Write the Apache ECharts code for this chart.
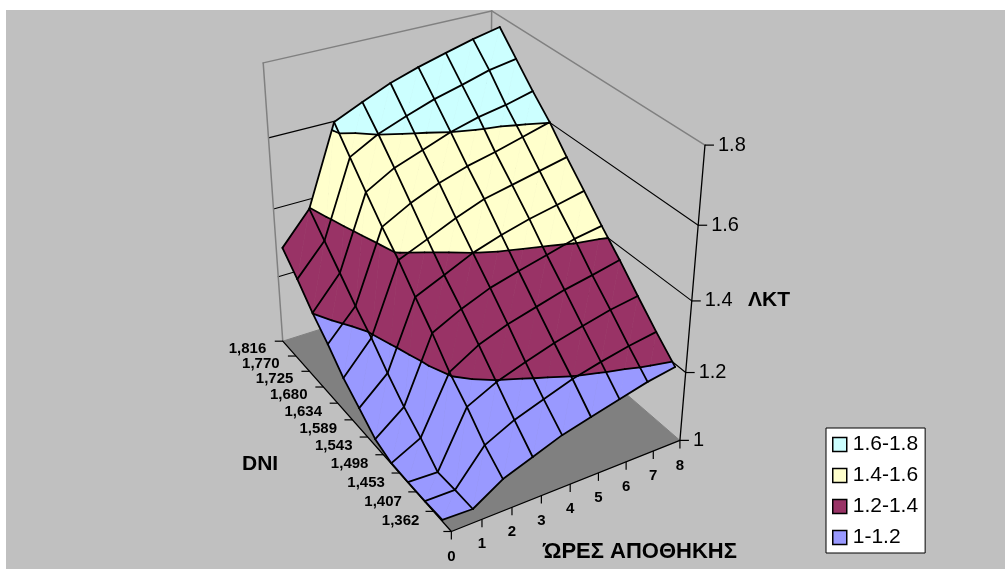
<!DOCTYPE html>
<html>
<head>
<meta charset="utf-8">
<style>html,body{margin:0;padding:0;background:#fff}#main{width:1005px;height:569px}</style>
<script src="https://cdn.jsdelivr.net/npm/echarts@6/dist/echarts.min.js"></script>
</head>
<body>
<div id="main"></div>
<script>
var hours = [0, 1, 2, 3, 4, 5, 6, 7, 8];
var dniLabels = ['1,362', '1,407', '1,453', '1,498', '1,543', '1,589', '1,634', '1,680', '1,725', '1,770', '1,816'];
var lktTicks = [1, 1.2, 1.4, 1.6, 1.8];
var bandNames = ['1-1.2', '1.2-1.4', '1.4-1.6', '1.6-1.8'];
var bandColors = ['#9999FF', '#993366', '#FFFFCC', '#CCFFFF'];

// ΛΚΤ per storage hour 0..8, one list per DNI
var lkt1362 = [1.004, 1.001, 1.054, 1.085, 1.116, 1.137, 1.158, 1.178, 1.192];
var lkt1407 = [1.001, 1.000, 1.098, 1.139, 1.168, 1.196, 1.216, 1.233, 1.246];
var lkt1453 = [1.001, 0.997, 1.156, 1.197, 1.225, 1.251, 1.272, 1.291, 1.304];
var lkt1498 = [1.002, 1.045, 1.206, 1.255, 1.286, 1.308, 1.330, 1.346, 1.364];
var lkt1543 = [1.020, 1.085, 1.270, 1.311, 1.344, 1.366, 1.386, 1.407, 1.420];
var lkt1589 = [1.061, 1.135, 1.327, 1.363, 1.400, 1.426, 1.447, 1.463, 1.480];
var lkt1634 = [1.101, 1.191, 1.388, 1.422, 1.457, 1.487, 1.504, 1.521, 1.538];
var lkt1680 = [1.154, 1.239, 1.440, 1.483, 1.516, 1.541, 1.559, 1.580, 1.601];
var lkt1725 = [1.201, 1.292, 1.498, 1.543, 1.571, 1.600, 1.621, 1.635, 1.654];
var lkt1770 = [1.257, 1.344, 1.558, 1.601, 1.630, 1.657, 1.677, 1.699, 1.712];
var lkt1816 = [1.307, 1.397, 1.620, 1.655, 1.688, 1.713, 1.734, 1.754, 1.770];
var surface = [lkt1362, lkt1407, lkt1453, lkt1498, lkt1543, lkt1589, lkt1634, lkt1680, lkt1725, lkt1770, lkt1816];

// perspective of the 3d box, (hour, depth, lkt) -> page
var camera = [
    [31.17770, -9.311624, -58.08370, 453.2498],
    [-5.978508, -10.19029, -367.9715, 833.2893],
    [0.009065349, 0.01452335, -0.1244911, 1]
];
var font = '"Liberation Sans", Arial, sans-serif';
var hourEnd = hours[hours.length - 1];
var depthEnd = dniLabels.length;
var zMin = lktTicks[0];
var zMax = lktTicks[lktTicks.length - 1];

function project(p) {
    var c = camera;
    var w = c[2][0] * p[0] + c[2][1] * p[1] + c[2][2] * p[2] + c[2][3];
    return [
        (c[0][0] * p[0] + c[0][1] * p[1] + c[0][2] * p[2] + c[0][3]) / w,
        (c[1][0] * p[0] + c[1][1] * p[1] + c[1][2] * p[2] + c[1][3]) / w
    ];
}

function node(h, r) {
    return [h, r + 0.5, surface[r][h]];
}

// every cell splits in two triangles
var triangles = [];
for (var r = 0; r < surface.length - 1; r++) {
    for (var h = 0; h < hours.length - 1; h++) {
        triangles.push([node(h, r), node(h + 1, r), node(h + 1, r + 1)]);
        triangles.push([node(h, r), node(h + 1, r + 1), node(h, r + 1)]);
    }
}

function cross(a, b, level) {
    var t = (level - a[2]) / (b[2] - a[2]);
    return [a[0] + (b[0] - a[0]) * t, a[1] + (b[1] - a[1]) * t, level];
}

function clip(poly, level, keepAbove) {
    var out = [];
    for (var i = 0; i < poly.length; i++) {
        var a = poly[i];
        var b = poly[(i + 1) % poly.length];
        var aIn = keepAbove ? a[2] >= level : a[2] <= level;
        var bIn = keepAbove ? b[2] >= level : b[2] <= level;
        if (aIn) out.push(a);
        if (aIn !== bIn) out.push(cross(a, b, level));
    }
    return out;
}

function bandPolys(lo, hi) {
    var polys = [];
    triangles.forEach(function (t) {
        var p = t;
        if (lo > zMin) p = clip(p, lo, true);
        if (p.length && hi < zMax) p = clip(p, hi, false);
        if (p.length > 2) polys.push(p);
    });
    return polys;
}

function contours() {
    var segs = [];
    lktTicks.slice(1, -1).forEach(function (level) {
        triangles.forEach(function (t) {
            var pts = [];
            for (var i = 0; i < 3; i++) {
                var a = t[i];
                var b = t[(i + 1) % 3];
                if ((a[2] >= level) !== (b[2] >= level)) pts.push(cross(a, b, level));
            }
            if (pts.length === 2) segs.push(pts);
        });
    });
    return segs;
}

function line(api, a, b, color, width) {
    var p = api.coord(project(a));
    var q = api.coord(project(b));
    return {
        type: 'line',
        shape: { x1: p[0], y1: p[1], x2: q[0], y2: q[1] },
        style: { stroke: color, lineWidth: width, lineCap: 'round' }
    };
}

function label(api, at, dx, dy, text, size, bold, align) {
    var p = api.coord(project(at));
    return {
        type: 'text',
        style: {
            x: p[0] + dx, y: p[1] + dy, text: text, fill: '#000',
            fontFamily: font, fontSize: size, fontWeight: bold ? 'bold' : 'normal',
            textAlign: align, textVerticalAlign: 'middle'
        }
    };
}

function tick(api, at, dx, dy) {
    var p = api.coord(project(at));
    return {
        type: 'line',
        shape: { x1: p[0], y1: p[1], x2: p[0] + dx, y2: p[1] + dy },
        style: { stroke: '#000', lineWidth: 1.2 }
    };
}

// floor, walls, and the three axes with their ticks
function renderBox(params, api) {
    var kids = [];
    var floor = [[0, 0, zMin], [hourEnd, 0, zMin], [hourEnd, depthEnd, zMin], [0, depthEnd, zMin]];
    kids.push({
        type: 'polygon',
        shape: { points: floor.map(function (p) { return api.coord(project(p)); }) },
        style: { fill: '#808080' }
    });
    lktTicks.slice(1, -1).forEach(function (z) {
        kids.push(line(api, [0, depthEnd, z], [hourEnd, depthEnd, z], '#000', 1.1));
        kids.push(line(api, [hourEnd, depthEnd, z], [hourEnd, 0, z], '#000', 1.1));
    });
    var gray = '#808080';
    kids.push(line(api, [0, depthEnd, zMin], [0, depthEnd, zMax], gray, 1.5));
    kids.push(line(api, [0, depthEnd, zMax], [hourEnd, depthEnd, zMax], gray, 1.5));
    kids.push(line(api, [hourEnd, depthEnd, zMax], [hourEnd, 0, zMax], gray, 1.5));
    kids.push(line(api, [hourEnd, depthEnd, zMin], [hourEnd, depthEnd, zMax], gray, 1.5));
    kids.push(line(api, [hourEnd, 0, zMin], [hourEnd, depthEnd, zMin], gray, 1));
    kids.push(line(api, [0, depthEnd, zMin], [hourEnd, depthEnd, zMin], gray, 1));

    kids.push(line(api, [0, 0, zMin], [hourEnd, 0, zMin], '#000', 1.3));
    kids.push(line(api, [0, 0, zMin], [0, depthEnd, zMin], '#000', 1.3));
    kids.push(line(api, [hourEnd, 0, zMin], [hourEnd, 0, zMax], '#000', 1.3));

    hours.forEach(function (v) {
        kids.push(tick(api, [v, 0, zMin], 0, 8));
        kids.push(label(api, [v, 0, zMin], 0, 25, String(v), 15, true, 'center'));
    });
    for (var d = 0; d <= depthEnd; d++) {
        kids.push(tick(api, [0, d, zMin], -8, 0));
    }
    dniLabels.forEach(function (v, i) {
        kids.push(label(api, [0, i + 0.5, zMin], -23, 0, v, 15, true, 'right'));
    });
    lktTicks.forEach(function (z) {
        kids.push(tick(api, [hourEnd, 0, z], 9, 0));
        kids.push(label(api, [hourEnd, 0, z], 13, 0, String(z), 20, false, 'left'));
    });
    return { type: 'group', children: kids };
}

function renderMesh(params, api) {
    var kids = [];
    var i, j;
    for (i = 0; i < surface.length; i++) {
        for (j = 0; j < hours.length - 1; j++) {
            kids.push(line(api, node(j, i), node(j + 1, i), '#000', 1.8));
        }
    }
    for (j = 0; j < hours.length; j++) {
        for (i = 0; i < surface.length - 1; i++) {
            kids.push(line(api, node(j, i), node(j, i + 1), '#000', 1.8));
        }
    }
    contours().forEach(function (s) {
        kids.push(line(api, s[0], s[1], '#000', 1.8));
    });
    return { type: 'group', children: kids };
}

function bandSeries(index) {
    var polys = bandPolys(lktTicks[index], lktTicks[index + 1]);
    var color = bandColors[index];
    return {
        name: bandNames[index],
        type: 'custom',
        silent: true,
        animation: false,
        itemStyle: { color: color },
        data: polys.map(function (p, i) { return [i]; }),
        encode: { x: 0 },
        renderItem: function (params, api) {
            var poly = polys[api.value(0)];
            return {
                type: 'polygon',
                shape: { points: poly.map(function (p) { return api.coord(project(p)); }) },
                style: { fill: color, stroke: color, lineWidth: 0.7 }
            };
        }
    };
}

var series = [{ type: 'custom', silent: true, animation: false, data: [[0]], encode: { x: 0 }, renderItem: renderBox }];
bandNames.forEach(function (name, i) {
    series.push(bandSeries(i));
});
series.push({ type: 'custom', silent: true, animation: false, data: [[0]], encode: { x: 0 }, renderItem: renderMesh });

var myChart = echarts.init(document.getElementById('main'));
myChart.setOption({
    animation: false,
    textStyle: { fontFamily: font },
    grid: { left: 6, top: 10, right: 0, bottom: 0, show: true, backgroundColor: '#C0C0C0', borderWidth: 0 },
    xAxis: { type: 'value', min: 6, max: 1005, show: false },
    yAxis: { type: 'value', min: 10, max: 569, inverse: true, show: false },
    legend: {
        left: 826,
        top: 428,
        orient: 'vertical',
        data: bandNames.slice().reverse(),
        icon: 'rect',
        itemWidth: 14,
        itemHeight: 14,
        itemGap: 10,
        padding: [6, 7, 5, 6],
        backgroundColor: '#fff',
        borderColor: '#000',
        borderWidth: 1,
        selectedMode: false,
        itemStyle: { borderColor: '#000', borderWidth: 1.5 },
        textStyle: { fontSize: 21, color: '#000', fontFamily: font, padding: [0, 0, 0, 1] }
    },
    graphic: [
        { type: 'text', x: 748, y: 300, style: { text: 'ΛΚΤ', fontFamily: font, fontSize: 21, fontWeight: 'bold', fill: '#000', textVerticalAlign: 'middle' } },
        { type: 'text', x: 242, y: 464, style: { text: 'DNI', fontFamily: font, fontSize: 21, fontWeight: 'bold', fill: '#000', textVerticalAlign: 'middle' } },
        { type: 'text', x: 543, y: 552, style: { text: 'ΏΡΕΣ ΑΠΟΘΗΚΗΣ', fontFamily: font, fontSize: 22, fontWeight: 'bold', fill: '#000', textVerticalAlign: 'middle' } }
    ],
    series: series
});
</script>
</body>
</html>
